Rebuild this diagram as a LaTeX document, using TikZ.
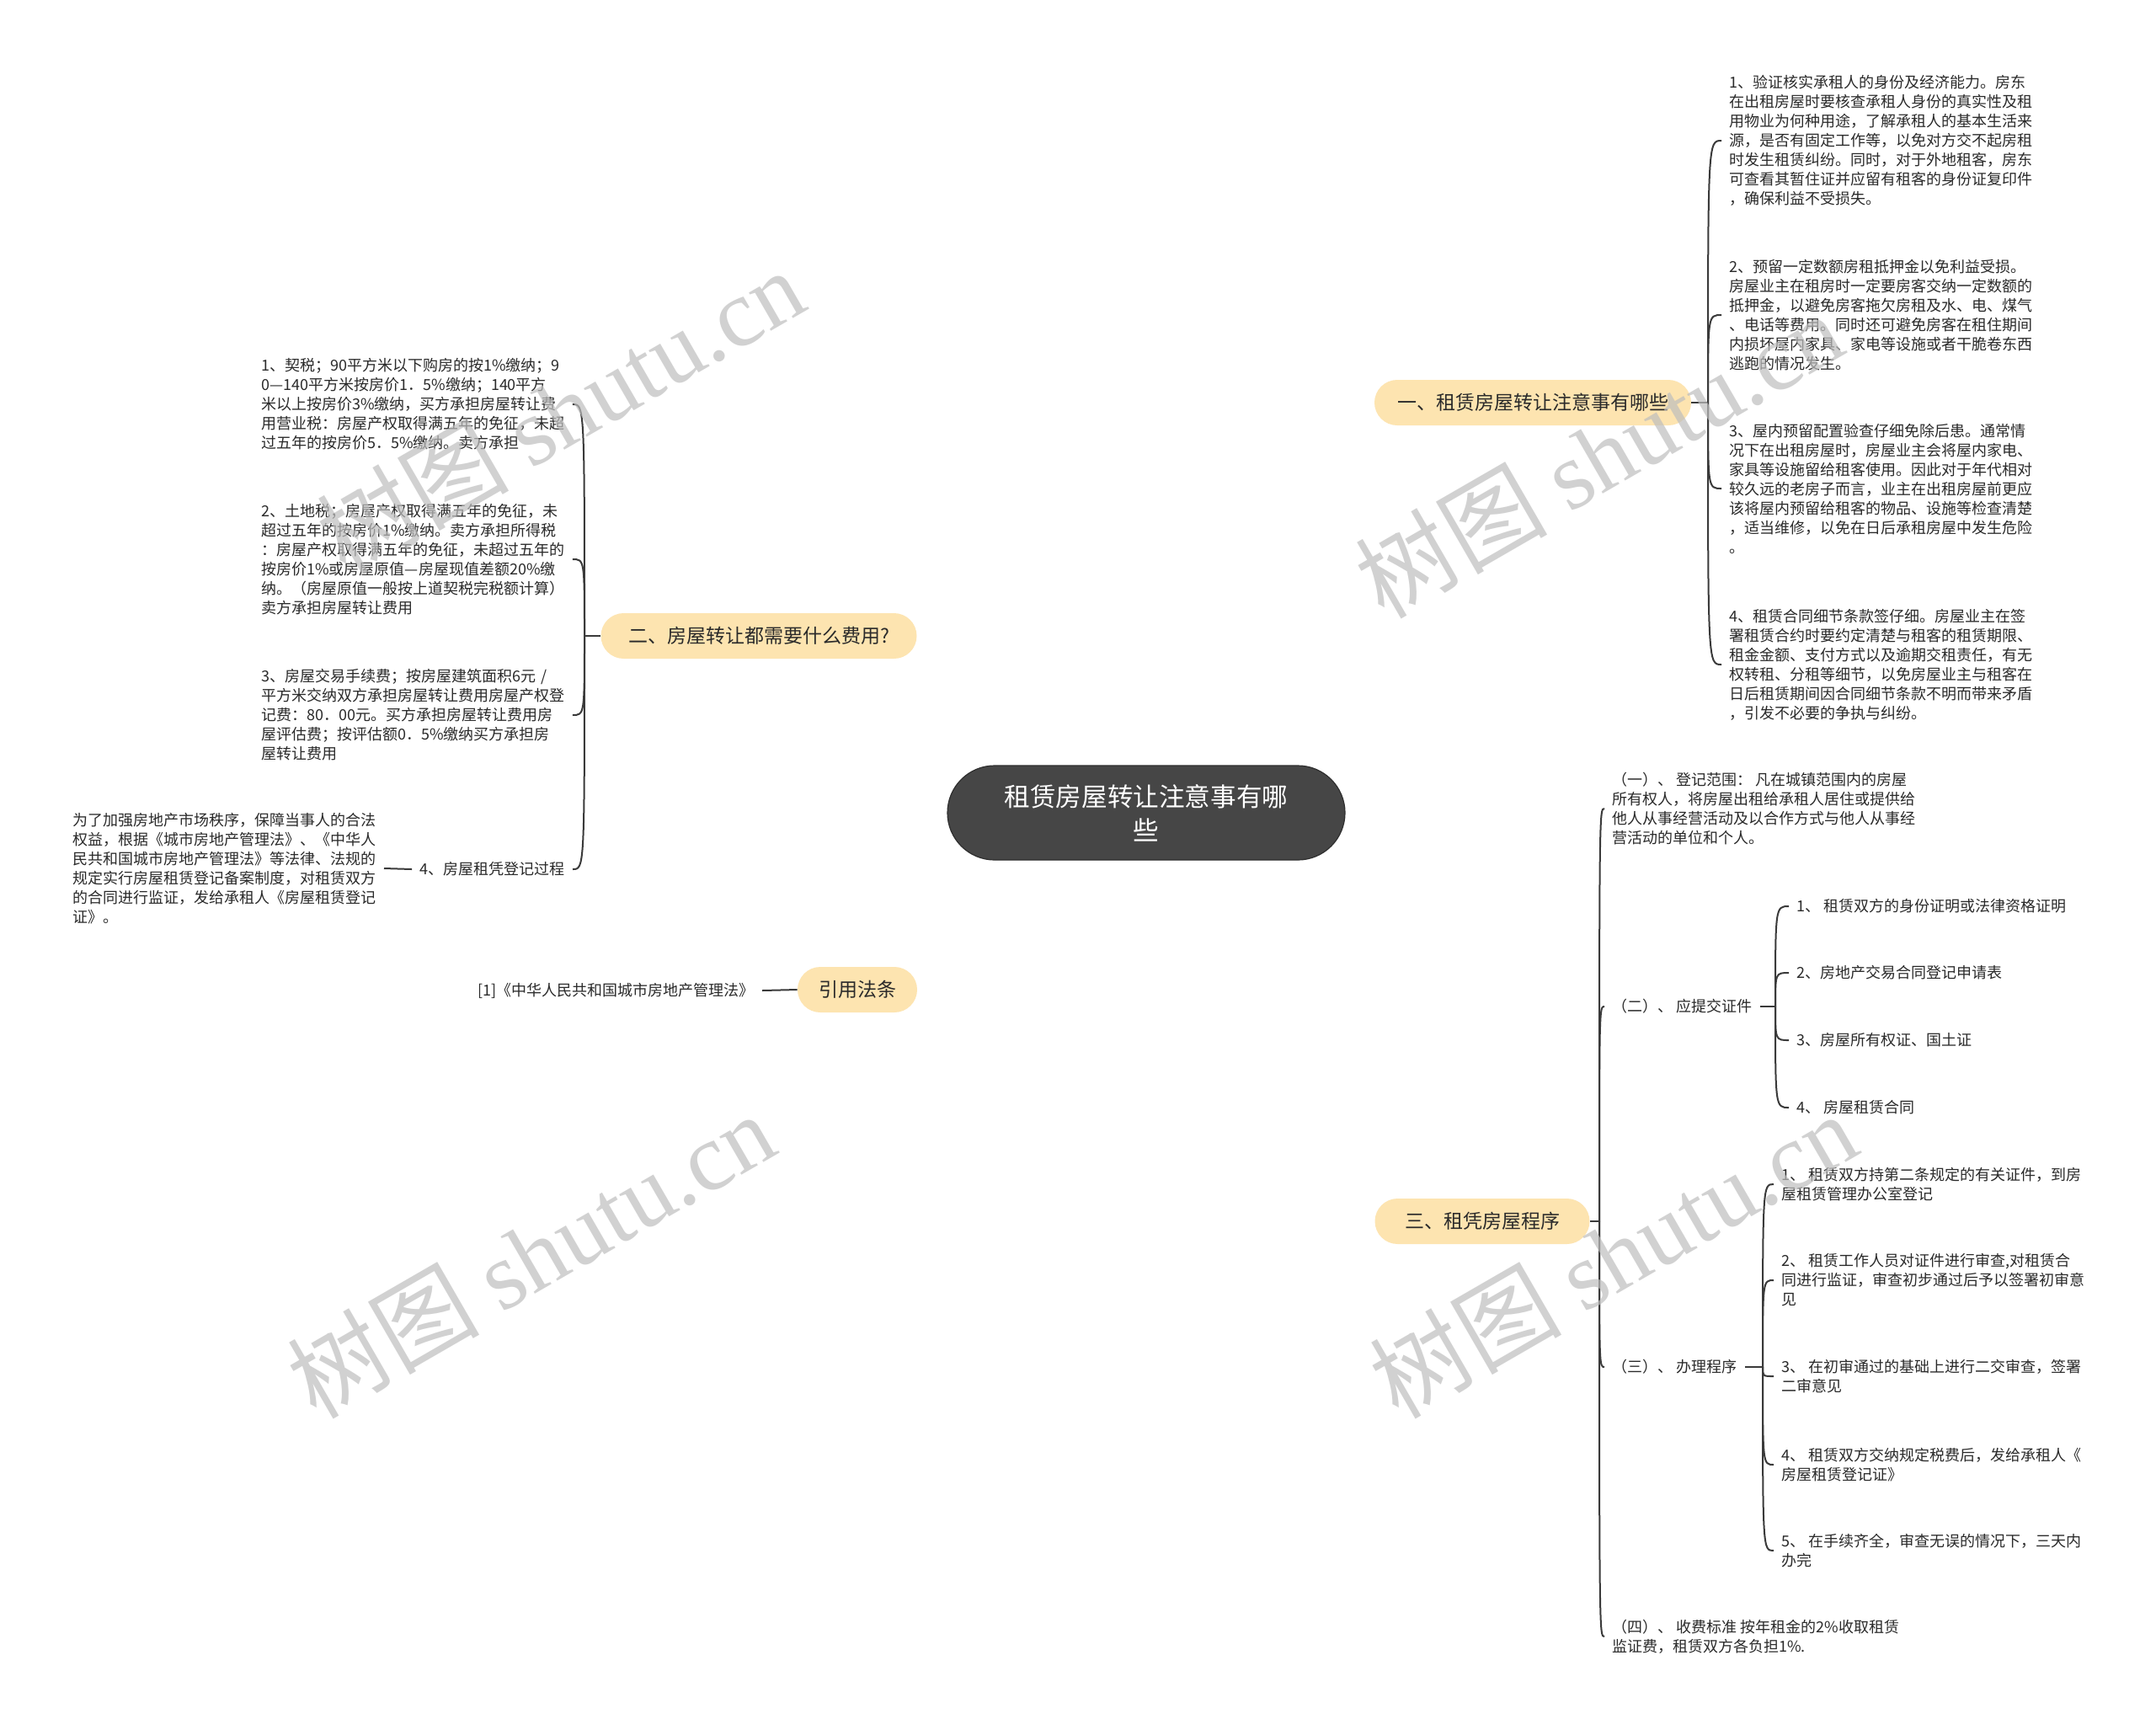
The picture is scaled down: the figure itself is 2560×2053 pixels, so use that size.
\documentclass[tikz,border=0pt]{standalone}
\usepackage{fontspec}
\setmainfont{Noto Sans CJK SC}
\newfontfamily\wmlatin{Liberation Serif}
\usetikzlibrary{calc}
\pgfdeclarelayer{bg}
\pgfdeclarelayer{fg}
\pgfsetlayers{bg,main,fg}
\definecolor{linec}{HTML}{3A3A3A}
\definecolor{rootfill}{HTML}{464646}
\definecolor{rootdraw}{HTML}{2E2E2E}
\definecolor{branchfill}{HTML}{FDE4B0}
\definecolor{txt}{HTML}{2A2A2A}
\definecolor{wm}{HTML}{BEBEBE}
\begin{document}
\begin{tikzpicture}[x=0.5pt,y=-0.5pt,
 rootnode/.style={draw=rootdraw, line width=0.6pt, fill=rootfill, text=white, rounded corners=28pt, minimum width=236pt, minimum height=56pt, align=center, font=\fontsize{15.3}{20}\selectfont, inner sep=0pt},
 branchnode/.style={fill=branchfill, text=txt, rounded corners=13.5pt, minimum height=27pt, inner sep=0pt, font=\fontsize{11.5}{14}\selectfont},
 leaf/.style={text=txt, align=left, inner ysep=0pt, inner xsep=4.5pt, font=\fontsize{9}{11.5}\selectfont},
 conn/.style={draw=linec, line width=1.3pt},
 spine/.style={draw=linec, line width=1pt},
 wmark/.style={text=wm, opacity=0.7, rotate=30, font=\fontsize{57}{60}\selectfont}
]
\useasboundingbox (0,0) rectangle (2560,2053);
\fill[white] (0,0) rectangle (2560,2053);

% root and branches
\node[rootnode] (c) at (1361,965) {租赁房屋转让注意事有哪\\些};
\node[branchnode, minimum width=188pt] (b1) at (1820,478) {一、租赁房屋转让注意事有哪些};
\node[branchnode, minimum width=187.5pt] (b2) at (901,755) {二、房屋转让都需要什么费用?};
\node[branchnode, minimum width=71pt] (bref) at (1018,1175) {引用法条};
\node[branchnode, minimum width=127.5pt] (b3) at (1760,1450) {三、租凭房屋程序};

% branch 1 children
\node[leaf, anchor=west] (e1) at (2044,167) {1、验证核实承租人的身份及经济能力。房东\\在出租房屋时要核查承租人身份的真实性及租\\用物业为何种用途，了解承租人的基本生活来\\源，是否有固定工作等，以免对方交不起房租\\时发生租赁纠纷。同时，对于外地租客，房东\\可查看其暂住证并应留有租客的身份证复印件\\，确保利益不受损失。};
\node[leaf, anchor=west] (e2) at (2044,374) {2、预留一定数额房租抵押金以免利益受损。\\房屋业主在租房时一定要房客交纳一定数额的\\抵押金，以避免房客拖欠房租及水、电、煤气\\、电话等费用。同时还可避免房客在租住期间\\内损坏屋内家具、家电等设施或者干脆卷东西\\逃跑的情况发生。};
\node[leaf, anchor=west] (e3) at (2044,580) {3、屋内预留配置验查仔细免除后患。通常情\\况下在出租房屋时，房屋业主会将屋内家电、\\家具等设施留给租客使用。因此对于年代相对\\较久远的老房子而言，业主在出租房屋前更应\\该将屋内预留给租客的物品、设施等检查清楚\\，适当维修，以免在日后承租房屋中发生危险\\。};
\node[leaf, anchor=west] (e4) at (2044,789) {4、租赁合同细节条款签仔细。房屋业主在签\\署租赁合约时要约定清楚与租客的租赁期限、\\租金金额、支付方式以及逾期交租责任，有无\\权转租、分租等细节，以免房屋业主与租客在\\日后租赁期间因合同细节条款不明而带来矛盾\\，引发不必要的争执与纠纷。};

% branch 2 children
\node[leaf, text width=180pt, anchor=west] (f1) at (301,480) {1、契税；90平方米以下购房的按1\%缴纳；9\\0—140平方米按房价1．5\%缴纳；140平方\\米以上按房价3\%缴纳，买方承担房屋转让费\\用营业税：房屋产权取得满五年的免征，未超\\过五年的按房价5．5\%缴纳。卖方承担};
\node[leaf, text width=180pt, anchor=west] (f2) at (301,664) {2、土地税；房屋产权取得满五年的免征，未\\超过五年的按房价1\%缴纳。卖方承担所得税\\：房屋产权取得满五年的免征，未超过五年的\\按房价1\%或房屋原值—房屋现值差额20\%缴\\纳。（房屋原值一般按上道契税完税额计算）\\卖方承担房屋转让费用};
\node[leaf, text width=180pt, anchor=west] (f3) at (301,849) {3、房屋交易手续费；按房屋建筑面积6元 /\\平方米交纳双方承担房屋转让费用房屋产权登\\记费：80．00元。买方承担房屋转让费用房\\屋评估费；按评估额0．5\%缴纳买方承担房\\屋转让费用};
\node[leaf, anchor=east] (f4) at (680,1032) {4、房屋租凭登记过程};
\node[leaf, text width=180pt, anchor=east] (f4a) at (456,1031) {为了加强房地产市场秩序，保障当事人的合法\\权益，根据《城市房地产管理法》、《中华人\\民共和国城市房地产管理法》等法律、法规的\\规定实行房屋租赁登记备案制度，对租赁双方\\的合同进行监证，发给承租人《房屋租赁登记\\证》。};

% reference branch child
\node[leaf, anchor=east] (r1) at (905,1176) {[1]《中华人民共和国城市房地产管理法》};

% branch 3 children
\node[leaf, anchor=west] (g1) at (1905,960) {（一）、 登记范围： 凡在城镇范围内的房屋\\所有权人，将房屋出租给承租人居住或提供给\\他人从事经营活动及以合作方式与他人从事经\\营活动的单位和个人。};
\node[leaf, anchor=west] (g2) at (1905,1195) {（二）、 应提交证件};
\node[leaf, anchor=west] (g3) at (1905,1623) {（三）、 办理程序};
\node[leaf, anchor=west] (g4) at (1905,1943) {（四）、 收费标准 按年租金的2\%收取租赁\\监证费，租赁双方各负担1\%.};

\node[leaf, anchor=west] (h1) at (2124,1076) {1、 租赁双方的身份证明或法律资格证明};
\node[leaf, anchor=west] (h2) at (2124,1155) {2、房地产交易合同登记申请表};
\node[leaf, anchor=west] (h3) at (2124,1235) {3、房屋所有权证、国土证};
\node[leaf, anchor=west] (h4) at (2124,1315) {4、 房屋租赁合同};

\node[leaf, anchor=west] (i1) at (2106,1406) {1、 租赁双方持第二条规定的有关证件，到房\\屋租赁管理办公室登记};
\node[leaf, anchor=west] (i2) at (2106,1520) {2、 租赁工作人员对证件进行审查,对租赁合\\同进行监证，审查初步通过后予以签署初审意\\见};
\node[leaf, anchor=west] (i3) at (2106,1634) {3、 在初审通过的基础上进行二交审查，签署\\二审意见};
\node[leaf, anchor=west] (i4) at (2106,1739) {4、 租赁双方交纳规定税费后，发给承租人《\\房屋租赁登记证》};
\node[leaf, anchor=west] (i5) at (2106,1841) {5、 在手续齐全，审查无误的情况下，三天内\\办完};

\coordinate (j1) at (2028,478);
\coordinate (j2) at (694,755);
\coordinate (j3) at (1899,1450);
\coordinate (j32) at (2108,1195);
\coordinate (j33) at (2093,1623);

\begin{pgfonlayer}{bg}
\draw[conn] (c.center) .. controls (1361,551) and (1415,478) .. (b1.west);
\draw[conn] (c.center) .. controls (1361,787) and (1307,755) .. (b2.east);
\draw[conn] (c.center) .. controls (1361,1143) and (1307,1175) .. (bref.east);
\draw[conn] (c.center) .. controls (1361,1377) and (1415,1450) .. (b3.west);
\end{pgfonlayer}

% branch 1 spine
\draw[spine] (b1.east) -- (j1);
\foreach \n in {e1,e2,e3,e4}{\draw[spine] (j1) .. controls (j1 |- \n.west) .. (\n.west);}
% branch 2 spine
\draw[spine] (b2.west) -- (j2);
\foreach \n in {f1,f2,f3,f4}{\draw[spine] (j2) .. controls (j2 |- \n.east) .. (\n.east);}
\draw[spine] (f4.west) -- (f4a.east);
% reference
\draw[spine] (bref.west) -- (r1.east);
% branch 3 spine
\draw[spine] (b3.east) -- (j3);
\foreach \n in {g1,g2,g3,g4}{\draw[spine] (j3) .. controls (j3 |- \n.west) .. (\n.west);}
\draw[spine] (g2.east) -- (j32);
\foreach \n in {h1,h2,h3,h4}{\draw[spine] (j32) .. controls (j32 |- \n.west) .. (\n.west);}
\draw[spine] (g3.east) -- (j33);
\foreach \n in {i1,i2,i3,i4,i5}{\draw[spine] (j33) .. controls (j33 |- \n.west) .. (\n.west);}

% watermarks
\begin{pgfonlayer}{fg}
\node[wmark] (w1) at (665,488) {树图 {\wmlatin shutu.cn}};
\node[wmark] (w2) at (1898,540) {树图 {\wmlatin shutu.cn}};
\node[wmark] (w3) at (630,1490) {树图 {\wmlatin shutu.cn}};
\node[wmark] (w4) at (1915,1490) {树图 {\wmlatin shutu.cn}};
\end{pgfonlayer}
\end{tikzpicture}
\end{document}
